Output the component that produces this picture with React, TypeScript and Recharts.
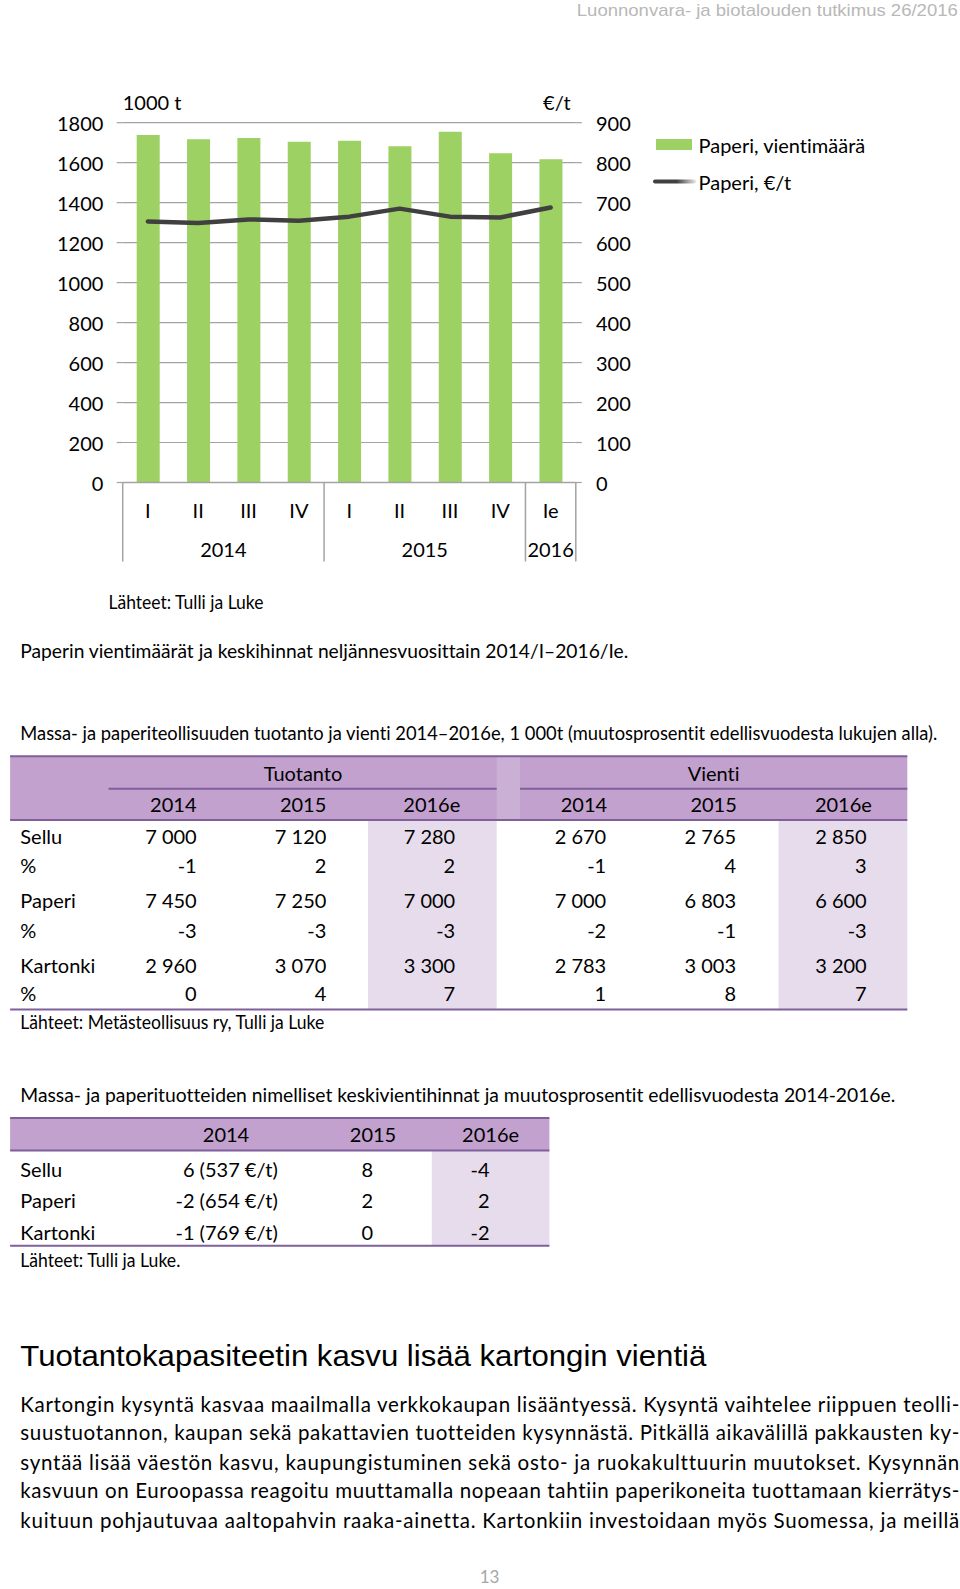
import React from 'react';
import { ComposedChart, Bar, Line, XAxis, YAxis, CartesianGrid, Legend } from 'recharts';

// ---------- chart data ----------
const quarters = ['I', 'II', 'III', 'IV', 'I', 'II', 'III', 'IV', 'Ie'];
const years = ['2014', '2014', '2014', '2014', '2015', '2015', '2015', '2015', '2016'];
const exportVolume = [1738, 1717, 1723, 1705, 1710, 1682, 1755, 1647, 1617];
const pricePerTon = [653, 649, 658, 655, 665, 685, 665, 663, 688];
const leftTicks = [0, 200, 400, 600, 800, 1000, 1200, 1400, 1600, 1800];
const rightTicks = [0, 100, 200, 300, 400, 500, 600, 700, 800, 900];
const seriesNames = ['Paperi, vientimäärä', 'Paperi, €/t'];

// ---------- table 1 data ----------
const t1Groups = ['Tuotanto', 'Vienti'];
const t1Years = ['2014', '2015', '2016e'];
const t1RowLabels = ['Sellu', '%', 'Paperi', '%', 'Kartonki', '%'];
const tuotantoValues = [
  ['7 000', '7 120', '7 280'],
  ['-1', '2', '2'],
  ['7 450', '7 250', '7 000'],
  ['-3', '-3', '-3'],
  ['2 960', '3 070', '3 300'],
  ['0', '4', '7'],
];
const vientiValues = [
  ['2 670', '2 765', '2 850'],
  ['-1', '4', '3'],
  ['7 000', '6 803', '6 600'],
  ['-2', '-1', '-3'],
  ['2 783', '3 003', '3 200'],
  ['1', '8', '7'],
];

// ---------- table 2 data ----------
const t2Years = ['2014', '2015', '2016e'];
const t2RowLabels = ['Sellu', 'Paperi', 'Kartonki'];
const t2Values = [
  ['6 (537 €/t)', '8', '-4'],
  ['-2 (654 €/t)', '2', '2'],
  ['-1 (769 €/t)', '0', '-2'],
];

// ---------- texts ----------
const headerText = 'Luonnonvara- ja biotalouden tutkimus 26/2016';
const unitLeft = '1000 t';
const unitRight = '€/t';
const chartSource = 'Lähteet: Tulli ja Luke';
const chartCaption = 'Paperin vientimäärät ja keskihinnat neljännesvuosittain 2014/I–2016/Ie.';
const t1Caption = 'Massa- ja paperiteollisuuden tuotanto ja vienti 2014–2016e, 1 000t (muutosprosentit edellisvuodesta lukujen alla).';
const t1Source = 'Lähteet: Metästeollisuus ry, Tulli ja Luke';
const t2Caption = 'Massa- ja paperituotteiden nimelliset keskivientihinnat ja muutosprosentit edellisvuodesta 2014-2016e.';
const t2Source = 'Lähteet: Tulli ja Luke.';
const heading = 'Tuotantokapasiteetin kasvu lisää kartongin vientiä';
const paragraphLines = [
  'Kartongin kysyntä kasvaa maailmalla verkkokaupan lisääntyessä. Kysyntä vaihtelee riippuen teolli-',
  'suustuotannon, kaupan sekä pakattavien tuotteiden kysynnästä. Pitkällä aikavälillä pakkausten ky-',
  'syntää lisää väestön kasvu, kaupungistuminen sekä osto- ja ruokakulttuurin muutokset. Kysynnän',
  'kasvuun on Euroopassa reagoitu muuttamalla nopeaan tahtiin paperikoneita tuottamaan kierrätys-',
  'kuituun pohjautuvaa aaltopahvin raaka-ainetta. Kartonkiin investoidaan myös Suomessa, ja meillä',
];
const pageNumber = '13';

// ---------- styles ----------
const FONT = "Lato, 'Open Sans', sans-serif";
const NARROW = "'Liberation Sans Narrow', 'Liberation Sans', Arial, sans-serif";
const FS = 20;
const GREEN = '#9dd163';
const LINE = '#404040';
const GRAY = '#a3a3a3';
const PURPLE = '#c2a1ce';
const PURPLE_DARK = '#7f5f9c';
const PURPLE_LIGHT = '#e6dcec';

const chartData = quarters.map((q, i) => ({
  q,
  year: years[i],
  volume: exportVolume[i],
  price: pricePerTon[i],
}));

const T = ({ x, y, children, anchor = 'start', size = FS, fill = '#000', family = FONT, len, adjust = 'spacingAndGlyphs' }: any) => (
  <text
    x={x}
    y={y}
    textAnchor={anchor}
    dominantBaseline="central"
    fontSize={size}
    fontFamily={family}
    fill={fill}
    textLength={len}
    lengthAdjust={len ? adjust : undefined}
    style={{ fontVariantLigatures: 'none', fontFeatureSettings: '"liga" 0, "dlig" 0' }}
  >
    {children}
  </text>
);

const LeftTick = (props: any) => {
  const { x, y, payload } = props;
  return <T x={x} y={y} anchor="end">{payload.value}</T>;
};
const RightTick = (props: any) => {
  const { x, y, payload } = props;
  return <T x={x} y={y} anchor="start">{payload.value}</T>;
};

const XTick = (props: any) => {
  const { x, y, payload, index, width, visibleTicksCount } = props;
  const i = typeof payload.index === 'number' ? payload.index : index;
  const band = width / visibleTicksCount;
  const yr = years[i];
  const firstIdx = years.indexOf(yr);
  const count = years.filter((v) => v === yr).length;
  const isFirst = i === firstIdx;
  const isLast = i === years.length - 1;
  const groupCenter = x - (i - firstIdx) * band + ((count - 1) * band) / 2;
  return (
    <g>
      <T x={x} y={y + 27} anchor="middle">{payload.value}</T>
      {isFirst && <line x1={x - band / 2} x2={x - band / 2} y1={y} y2={y + 79} stroke={GRAY} strokeWidth={1.5} />}
      {isLast && <line x1={x + band / 2} x2={x + band / 2} y1={y} y2={y + 79} stroke={GRAY} strokeWidth={1.5} />}
      {isFirst && <T x={groupCenter} y={y + 66} anchor="middle">{yr}</T>}
    </g>
  );
};

const renderLegend = (props: any) => {
  const payload = (props.payload || []) as any[];
  const bar = payload.find((p) => p.dataKey === 'volume');
  const line = payload.find((p) => p.dataKey === 'price');
  return (
    <svg width={300} height={70} style={{ overflow: 'visible' }}>
      <defs>
        <linearGradient id="legLine" x1="0" x2="1" y1="0" y2="0">
          <stop offset="0" stopColor={LINE} />
          <stop offset="0.55" stopColor={LINE} />
          <stop offset="1" stopColor="#e8e8e8" />
        </linearGradient>
      </defs>
      <rect x={16} y={14} width={36} height={11} fill={bar ? bar.color : GREEN} />
      <T x={58.5} y={19.5}>{bar ? bar.value : seriesNames[0]}</T>
      <rect x={13} y={54.5} width={43} height={4} rx={2} fill="url(#legLine)" />
      <T x={58.5} y={56.5}>{line ? line.value : seriesNames[1]}</T>
    </svg>
  );
};

const PaperChart = () => (
  <ComposedChart
    width={960}
    height={600}
    data={chartData}
    margin={{ top: 122.7, right: 324.2, bottom: 37.5, left: 52.7 }}
  >
    <CartesianGrid vertical={false} stroke={GRAY} strokeWidth={1.2} yAxisId="left" />
    <XAxis
      dataKey="q"
      height={80}
      interval={0}
      tickLine={false}
      tickSize={0}
      tickMargin={0}
      axisLine={{ stroke: GRAY, strokeWidth: 1.5 }}
      tick={<XTick />}
    />
    <YAxis
      yAxisId="left"
      width={70}
      domain={[0, 1800]}
      ticks={leftTicks}
      interval={0}
      axisLine={false}
      tickLine={{ stroke: GRAY, strokeWidth: 1.2 }}
      tickSize={6}
      tickMargin={13.3}
      tick={<LeftTick />}
    />
    <YAxis
      yAxisId="right"
      orientation="right"
      width={60}
      domain={[0, 900]}
      ticks={rightTicks}
      interval={0}
      axisLine={false}
      tickLine={{ stroke: GRAY, strokeWidth: 1.2 }}
      tickSize={6}
      tickMargin={14.2}
      tick={<RightTick />}
    />
    <Bar yAxisId="left" dataKey="volume" name={seriesNames[0]} fill={GREEN} barSize={23} isAnimationActive={false} />
    <Line
      yAxisId="right"
      dataKey="price"
      name={seriesNames[1]}
      type="linear"
      stroke={LINE}
      strokeWidth={4.5}
      strokeLinecap="round"
      strokeLinejoin="round"
      dot={false}
      activeDot={false}
      isAnimationActive={false}
    />
    <Legend
      layout="horizontal"
      verticalAlign="middle"
      align="center"
      wrapperStyle={{ left: 640, top: 125, width: 300, height: 70 }}
      content={renderLegend}
    />
  </ComposedChart>
);

// ---------- tables ----------
const Table1 = () => {
  const x0 = 10.1, x1 = 907.3;
  const yTop = 756.2, yMid = 788.7, yHead = 820, yBot = 1009.6;
  const rowY = [836.3, 864.7, 900.2, 929.6, 965, 993.4];
  const groupSpans = [[108.5, 496.7], [520, 907.3]];
  const groupCenters = [303, 713.6];
  const yearCenters = [[173.3, 303.1, 431.8], [583.9, 713.6, 843.4]];
  const rightEdges = [[196.7, 326.4, 455.2], [606.2, 736, 866.7]];
  const shade = [[368, 496.7], [778.5, 907.3]];
  const groupsData = [tuotantoValues, vientiValues];
  return (
    <g>
      <rect x={x0} y={yTop} width={x1 - x0} height={yHead - yTop} fill={PURPLE} />
      <rect x={496.7} y={yTop} width={520 - 496.7} height={yHead - yTop} fill="#cbb0d6" />
      {shade.map(([a, b], i) => (
        <rect key={i} x={a} y={yHead} width={b - a} height={yBot - yHead} fill={PURPLE_LIGHT} />
      ))}
      <line x1={x0} x2={x1} y1={yTop} y2={yTop} stroke={PURPLE_DARK} strokeWidth={2} />
      {groupSpans.map(([a, b], i) => (
        <line key={i} x1={a} x2={b} y1={yMid} y2={yMid} stroke={PURPLE_DARK} strokeWidth={2} />
      ))}
      <line x1={x0} x2={x1} y1={yHead} y2={yHead} stroke={PURPLE_DARK} strokeWidth={2} />
      <line x1={x0} x2={x1} y1={yBot} y2={yBot} stroke={PURPLE_DARK} strokeWidth={2} />
      {t1Groups.map((g, gi) => (
        <T key={g} x={groupCenters[gi]} y={772.5} anchor="middle">{g}</T>
      ))}
      {yearCenters.map((cs, gi) =>
        cs.map((c, yi) => (
          <T key={`${gi}-${yi}`} x={c} y={804} anchor="middle">{t1Years[yi]}</T>
        ))
      )}
      {t1RowLabels.map((l, ri) => (
        <T key={ri} x={20.3} y={rowY[ri]}>{l}</T>
      ))}
      {groupsData.map((rows, gi) =>
        rows.map((row, ri) =>
          row.map((v, ci) => (
            <T key={`${gi}-${ri}-${ci}`} x={rightEdges[gi][ci]} y={rowY[ri]} anchor="end">{v}</T>
          ))
        )
      )}
    </g>
  );
};

const Table2 = () => {
  const x0 = 10.1, x1 = 549.4;
  const yTop = 1118.1, yHead = 1150.6, yBot = 1245.8;
  const rowY = [1168.8, 1200.2, 1231.6];
  const headCenters = [226, 373, 490.6];
  const rightEdges = [277.8, 373, 489.6];
  return (
    <g>
      <rect x={x0} y={yTop} width={x1 - x0} height={yHead - yTop} fill={PURPLE} />
      <rect x={431.8} y={yHead} width={x1 - 431.8} height={yBot - yHead} fill={PURPLE_LIGHT} />
      <line x1={x0} x2={x1} y1={yTop} y2={yTop} stroke={PURPLE_DARK} strokeWidth={2} />
      <line x1={x0} x2={x1} y1={yHead} y2={yHead} stroke={PURPLE_DARK} strokeWidth={2} />
      <line x1={x0} x2={x1} y1={yBot} y2={yBot} stroke={PURPLE_DARK} strokeWidth={2} />
      {t2Years.map((yv, i) => (
        <T key={yv} x={headCenters[i]} y={1134.3} anchor="middle">{yv}</T>
      ))}
      {t2RowLabels.map((l, ri) => (
        <T key={l} x={20.3} y={rowY[ri]}>{l}</T>
      ))}
      {t2Values.map((row, ri) =>
        row.map((v, ci) => (
          <T key={`${ri}-${ci}`} x={rightEdges[ci]} y={rowY[ri]} anchor="end">{v}</T>
        ))
      )}
    </g>
  );
};

export default function App() {
  return (
    <div style={{ position: 'absolute', left: 0, top: 0, width: 960, height: 1589, background: '#fff', overflow: 'hidden' }}>
      <div style={{ position: 'absolute', left: 0, top: 0 }}>
        <PaperChart />
      </div>
      <svg
        width={960}
        height={1589}
        style={{ position: 'absolute', left: 0, top: 0, pointerEvents: 'none' }}
      >
        <T x={576.8} y={10} size={17} family={NARROW} fill="#b8b8b8" len={381}>{headerText}</T>
        <T x={122.7} y={102.4}>{unitLeft}</T>
        <T x={570.7} y={102.4} anchor="end">{unitRight}</T>
        <T x={108.5} y={601} len={155}>{chartSource}</T>
        <T x={20.3} y={649.8} len={608}>{chartCaption}</T>
        <T x={20.3} y={733} size={18.5} len={917}>{t1Caption}</T>
        <Table1 />
        <T x={20.3} y={1021.8} size={18.5} len={304}>{t1Source}</T>
        <T x={20.3} y={1094.8} size={19.5} len={875}>{t2Caption}</T>
        <Table2 />
        <T x={20.3} y={1260} size={18.5} len={160}>{t2Source}</T>
        <T x={20.3} y={1355.3} size={30} family={NARROW} len={686}>{heading}</T>
        {paragraphLines.map((l, i) => (
          <T key={i} x={20.3} y={[1404, 1432.4, 1461.8, 1490.2, 1519.5][i]} size={20.5} len={939} adjust="spacing">{l}</T>
        ))}
        <T x={489.6} y={1576} anchor="middle" size={17} fill="#a6a6a6">{pageNumber}</T>
      </svg>
    </div>
  );
}
